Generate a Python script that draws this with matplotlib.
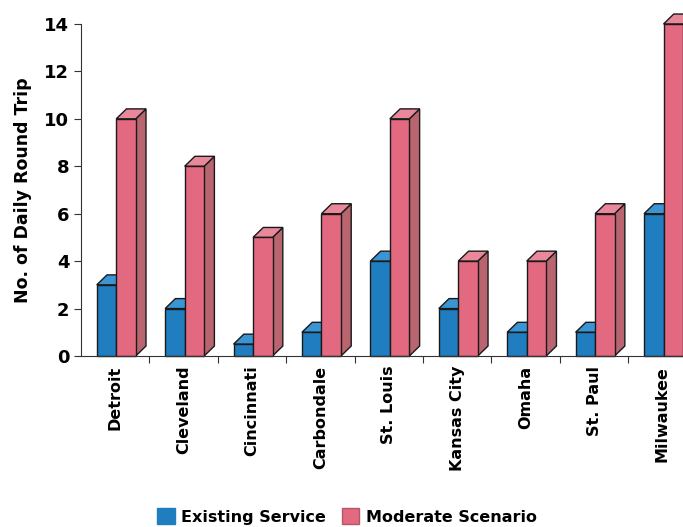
import matplotlib
matplotlib.use('Agg')
import matplotlib.pyplot as plt
from matplotlib.patches import Polygon, Patch

cities = ['Detroit', 'Cleveland', 'Cincinnati', 'Carbondale', 'St. Louis',
          'Kansas City', 'Omaha', 'St. Paul', 'Milwaukee']
existingVals = [3, 2, 0.5, 1, 4, 2, 1, 1, 6]
moderateVals = [10, 8, 5, 6, 10, 4, 4, 6, 14]

plt.rcParams['font.family'] = ['DejaVu Sans']
plt.rcParams['font.weight'] = 'bold'

# colours: front, top, side
blueClr = ('#1f7dc0', '#3a95d2', '#17639a')
redClr = ('#e2697f', '#e8889a', '#b9656f')
edgeClr = '#1a1a1a'

barW = 0.285
depthX = 0.15
depthY = 0.42


def draw3dBar(ax, x0, h, clrs):
    x1 = x0 + barW
    front = Polygon([(x0, 0), (x1, 0), (x1, h), (x0, h)], closed=True)
    top = Polygon([(x0, h), (x1, h), (x1 + depthX, h + depthY),
                   (x0 + depthX, h + depthY)], closed=True)
    side = Polygon([(x1, 0), (x1 + depthX, depthY), (x1 + depthX, h + depthY),
                    (x1, h)], closed=True)
    for p, c in zip((side, top, front), (clrs[2], clrs[1], clrs[0])):
        p.set_facecolor(c)
        p.set_edgecolor(edgeClr)
        p.set_linewidth(1.0)
        # let the top face poke above the axes like the original
        p.set_clip_on(False)
        ax.add_patch(p)


fig = plt.figure(figsize=(6.83, 5.27), dpi=100)
ax = fig.add_axes([0.1186, 0.3245, 0.8814, 0.63])

for i in range(len(cities)):
    draw3dBar(ax, i - 0.27, existingVals[i], blueClr)
    draw3dBar(ax, i + 0.015, moderateVals[i], redClr)

ax.set_xlim(-0.5, 8.3)
ax.set_ylim(0, 14)
ax.set_yticks(range(0, 15, 2))
ax.set_xticks([i + 0.5 for i in range(len(cities) - 1)])
ax.set_xticklabels([])
ax.set_xticks(range(len(cities)), minor=True)
ax.set_xticklabels(cities, minor=True, rotation=90, fontsize=11.5,
                   fontweight='bold')
ax.tick_params(axis='x', which='minor', length=0, pad=7)
ax.tick_params(axis='x', which='major', length=5, direction='out',
               color='#333333')
ax.tick_params(axis='y', length=5, labelsize=13, color='#333333')
for lbl in ax.get_yticklabels():
    lbl.set_fontweight('bold')

ax.spines['top'].set_visible(False)
ax.spines['right'].set_visible(False)
ax.spines['left'].set_color('#333333')
ax.spines['bottom'].set_color('#333333')
ax.set_ylabel('No. of Daily Round Trip', fontsize=12.5, fontweight='bold',
              labelpad=9)

handles = [Patch(facecolor=blueClr[0], edgecolor=blueClr[0], label='Existing Service'),
           Patch(facecolor=redClr[0], edgecolor='#b05a68', label='Moderate Scenario')]
fig.legend(handles=handles, loc='center', bbox_to_anchor=(0.508, 0.02),
           ncol=2, frameon=False, prop={'size': 11.5, 'weight': 'bold'},
           handlelength=1.1, handleheight=1.1, columnspacing=1.0,
           handletextpad=0.4)

fig.savefig('out.png', dpi=100)
plt.close()
